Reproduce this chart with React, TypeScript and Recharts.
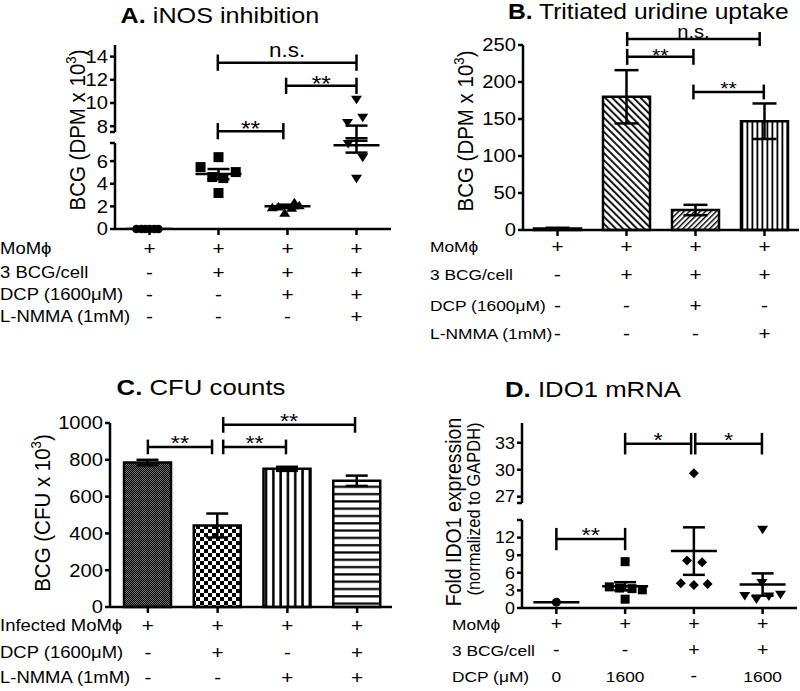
import React from "react";
import { ComposedChart, Bar, Scatter, XAxis, YAxis, ErrorBar, ReferenceLine, Cell } from "recharts";

const FONT = '"Liberation Sans", Arial, Helvetica, sans-serif';
const SX = 1.12;
const K = "#000";
const SW = 2.5;
const line = { stroke: K, strokeWidth: SW };

// ---------- A. iNOS inhibition ----------
const groupsX = [0, 1, 2, 3];
const aValues = [
  [0, 0, 0, 0, 0, 0],
  [6.35, 5.47, 5.03, 4.59, 4.5, 3.18],
  [2.0, 1.45, 2.38, 1.9, 2.12, 1.95],
  [10.26, 8.26, 8.7, 7.5, 6.27, 4.41],
];
const aSpread = [
  [-0.19, -0.12, -0.06, 0, 0.07, 0.13],
  [0, -0.26, 0.25, -0.09, 0.07, 0],
  [-0.13, -0.04, 0.1, 0.06, 0.17, -0.22],
  [0, -0.13, 0.09, -0.12, 0.09, 0],
];
const aMean = [0, 4.85, 2.0, 7.4];
const aSem = [0, 0.45, 0.15, 0.65];
const aLowTicks = [0, 2, 4, 6];
const aHighTicks = [8, 10, 12, 14];
const A_LOW = [0, 7.6];
const A_HIGH = [7.5, 15];
const aRowLabels = ["MoM\u03D5", "3 BCG/cell", "DCP (1600\u03BCM)", "L-NMMA (1mM)"];
const aFactors = [
  ["+", "+", "+", "+"],
  ["-", "+", "+", "+"],
  ["-", "-", "+", "+"],
  ["-", "-", "-", "+"],
];

// ---------- B. Tritiated uridine uptake ----------
const bCats = ["b1", "b2", "b3", "b4"];
const bValues = [2, 180, 27, 147];
const bErr = [1, 36, 7, 24];
const bTicks = [0, 50, 100, 150, 200, 250];
const bRowLabels = ["MoM\u03D5", "3 BCG/cell", "DCP (1600\u03BCM)", "L-NMMA (1mM)"];
const bFactors = [
  ["+", "+", "+", "+"],
  ["-", "+", "+", "+"],
  ["-", "-", "+", "-"],
  ["-", "-", "-", "+"],
];

// ---------- C. CFU counts ----------
const cCats = ["c1", "c2", "c3", "c4"];
const cValues = [785, 443, 751, 686];
const cErr = [15, 65, 11, 28];
const cTicks = [0, 200, 400, 600, 800, 1000];
const cRowLabels = ["Infected MoM\u03D5", "DCP (1600\u03BCM)", "L-NMMA (1mM)"];
const cFactors = [
  ["+", "+", "+", "+"],
  ["-", "+", "-", "+"],
  ["-", "-", "+", "+"],
];

// ---------- D. IDO1 mRNA ----------
const dValues = [
  [1.0],
  [7.9, 3.6, 3.4, 3.3, 3.1, 1.5],
  [29.6, 8.1, 7.8, 4.2, 3.9, 4.1],
  [13.3, 4.2, 2.0, 1.4, 1.9, 2.2],
];
const dSpread = [
  [0],
  [0, -0.23, -0.08, 0.1, 0.25, 0],
  [0, -0.1, 0.12, -0.19, 0, 0.2],
  [0, -0.01, -0.26, -0.09, 0.09, 0.26],
];
const dMean = [1.0, 3.7, 9.7, 4.0];
const dSem = [0, 0.7, 4.05, 1.9];
const dLowTicks = [0, 3, 6, 9, 12];
const dHighTicks = [27, 30, 33];
const D_LOW = [0, 15];
const D_HIGH = [26.3, 35.2];
const dRowLabels = ["MoM\u03D5", "3 BCG/cell", "DCP (\u03BCM)"];
const dFactors = [
  ["+", "+", "+", "+"],
  ["-", "-", "+", "+"],
  ["0", "1600", "-", "1600"],
];

const points = (vals: number[][], spread: number[][], g: number, keep: (v: number) => boolean) =>
  vals[g].map((v, i) => ({ x: groupsX[g] + spread[g][i], y: v })).filter((p) => keep(p.y));
const means = (m: number[], s: number[]) => groupsX.map((g, i) => ({ x: g, y: m[i], sem: s[i] }));

const mark = (kind: string, s: number) => (p: any) => {
  const { cx, cy } = p;
  if (cx == null || cy == null) return <g />;
  const h = s / 2;
  if (kind === "circle") return <circle cx={cx} cy={cy} r={h} fill={K} />;
  if (kind === "square") return <rect x={cx - h} y={cy - h} width={s} height={s} fill={K} />;
  if (kind === "diamond")
    return <path d={`M${cx},${cy - h}L${cx + h},${cy}L${cx},${cy + h}L${cx - h},${cy}Z`} fill={K} />;
  if (kind === "up")
    return <path d={`M${cx},${cy - h * 0.85}L${cx + h * 1.1},${cy + h * 0.85}L${cx - h * 1.1},${cy + h * 0.85}Z`} fill={K} />;
  return <path d={`M${cx},${cy + h * 0.85}L${cx + h * 1.1},${cy - h * 0.85}L${cx - h * 1.1},${cy - h * 0.85}Z`} fill={K} />;
};

const meanLine = (half: number) => (p: any) =>
  p.cx == null ? <g /> : <line x1={p.cx - half} x2={p.cx + half} y1={p.cy} y2={p.cy} stroke={K} strokeWidth={SW} />;

function YTick(props: any) {
  const { x, y, payload, labels, size } = props;
  if (!labels.includes(payload.value)) return <g />;
  return (
    <text transform={`translate(${x},${y}) scale(${SX},1)`} textAnchor="end" dy="0.36em" fontSize={size || 18} fontFamily={FONT} fill={K}>
      {payload.value}
    </text>
  );
}

function FactorTick(props: any) {
  const { x, y, payload, rows, offsets, size, cats } = props;
  const i = cats ? cats.indexOf(payload.value) : Math.round(payload.value);
  const axisY = y - 6;
  return (
    <g>
      {rows.map((r: string[], k: number) => {
        const sign = r[i] === "+" || r[i] === "-";
        return (
          <text key={k} transform={`translate(${x},${axisY + offsets[k]}) scale(${SX},1)`} textAnchor="middle" dy="0.36em" fontSize={sign ? size + 2 : size} fontFamily={FONT} fill={K}>
            {r[i]}
          </text>
        );
      })}
    </g>
  );
}

const bracketLabel = (text: string, size: number, dy: number) => (p: any) => {
  const vb = p.viewBox || { x: 0, y: 0, width: 0 };
  const cx = vb.x + vb.width / 2;
  return (
    <text transform={`translate(${cx},${vb.y + dy}) scale(${SX},1)`} textAnchor="middle" fontSize={size} fontFamily={FONT} fill={K}>
      {text}
    </text>
  );
};

function bracket(key: string, x1: number, x2: number, y: number, h: number, text: string, size: number, dy: number, xAxisId: any = 0) {
  const common = { stroke: K, strokeWidth: SW, ifOverflow: "visible" as const, xAxisId };
  return [
    <ReferenceLine key={key + "h"} {...common} segment={[{ x: x1, y }, { x: x2, y }]} label={bracketLabel(text, size, dy)} />,
    <ReferenceLine key={key + "l"} {...common} segment={[{ x: x1, y: y - h }, { x: x1, y: y + h }]} />,
    <ReferenceLine key={key + "r"} {...common} segment={[{ x: x2, y: y - h }, { x: x2, y: y + h }]} />,
  ];
}

const aShapes = ["circle", "square", "up", "down"];
const aSizes = [8.5, 10, 10, 10];
const dShapes = ["circle", "square", "diamond", "down"];
const dSizes = [9, 9, 10, 10];

function PanelA() {
  const low = (v: number) => v <= A_LOW[1];
  const high = (v: number) => v > A_LOW[1];
  return (
    <>
      <div style={{ position: "absolute", left: 0, top: 0 }}>
        <ComposedChart width={400} height={145} margin={{ top: 45, right: 9, bottom: 13, left: 0 }}>
          <XAxis type="number" dataKey="x" domain={[-0.5, 3.5]} hide height={0} />
          <YAxis type="number" dataKey="y" domain={A_HIGH} ticks={[A_HIGH[0], ...aHighTicks]} allowDataOverflow interval={0} width={115}
            axisLine={line} tickLine={line} tickSize={5} tickMargin={2} tick={<YTick labels={aHighTicks} />} />
          {groupsX.map((g) => (
            <Scatter key={g} data={points(aValues, aSpread, g, high)} shape={mark(aShapes[g], aSizes[g])} isAnimationActive={false} />
          ))}
          <Scatter data={means(aMean, aSem)} shape={meanLine(23)} isAnimationActive={false}>
            <ErrorBar dataKey="sem" direction="y" width={11} stroke={K} strokeWidth={SW} />
          </Scatter>
          {bracket("a1", 0.99, 3.0, 13.48, 0.7, "n.s.", 20, -6)}
          {bracket("a2", 1.98, 3.0, 11.48, 0.7, "**", 22, 5)}
          {bracket("a3", 0.99, 1.94, 7.57, 0.7, "**", 22, 5)}
        </ComposedChart>
      </div>
      <div style={{ position: "absolute", left: 0, top: 137 }}>
        <ComposedChart width={400} height={200} margin={{ top: 6, right: 9, bottom: 0, left: 0 }}>
          <XAxis type="number" dataKey="x" domain={[-0.5, 3.5]} ticks={groupsX} interval={0} height={108}
            axisLine={line} tickLine={line} tickSize={6} tickMargin={0}
            tick={<FactorTick rows={aFactors} offsets={[19, 43, 65, 87]} size={16.5} />} />
          <YAxis yAxisId="v" type="number" dataKey="y" domain={A_LOW} ticks={[...aLowTicks, A_LOW[1]]} interval={0} width={115}
            axisLine={line} tickLine={line} tickSize={5} tickMargin={2} tick={<YTick labels={aLowTicks} />} />
          <YAxis yAxisId="c" type="number" dataKey="y" domain={A_LOW} hide allowDataOverflow width={0} />
          {groupsX.map((g) => (
            <Scatter key={g} yAxisId="v" data={points(aValues, aSpread, g, low)} shape={mark(aShapes[g], aSizes[g])} isAnimationActive={false} />
          ))}
          <Scatter yAxisId="c" data={means(aMean, aSem)} shape={meanLine(23)} isAnimationActive={false}>
            <ErrorBar dataKey="sem" direction="y" width={11} stroke={K} strokeWidth={SW} />
          </Scatter>
        </ComposedChart>
      </div>
    </>
  );
}

function PanelB() {
  const data = bCats.map((c, i) => ({ name: c, ix: groupsX[i], v: bValues[i], e: bErr[i] }));
  const fills = ["#fff", "url(#pB2)", "url(#pB3)", "url(#pB4)"];
  return (
    <div style={{ position: "absolute", left: 400, top: 0 }}>
      <ComposedChart width={400} height={345} data={data} margin={{ top: 45, right: 1, bottom: 0, left: 0 }}>
        <defs>
          <pattern id="pB2" width="5" height="5" patternUnits="userSpaceOnUse" patternTransform="rotate(-45)">
            <rect width="5" height="5" fill="#fff" />
            <rect width="1.8" height="5" fill="#000" />
          </pattern>
          <pattern id="pB3" width="3.8" height="3.8" patternUnits="userSpaceOnUse" patternTransform="rotate(45)">
            <rect width="3.8" height="3.8" fill="#fff" />
            <rect width="1.4" height="3.8" fill="#000" />
          </pattern>
          <pattern id="pB4" width="5" height="5" patternUnits="userSpaceOnUse">
            <rect width="5" height="5" fill="#fff" />
            <rect x="1.5" width="1.8" height="5" fill="#000" />
          </pattern>
        </defs>
        <XAxis dataKey="name" type="category" interval={0} height={115} axisLine={line} tickLine={line} tickSize={6} tickMargin={0}
          tick={<FactorTick rows={bFactors} cats={bCats} offsets={[16, 44, 75, 103]} size={16.5} />} />
        <XAxis xAxisId="n" dataKey="ix" type="number" domain={[-0.5, 3.5]} allowDataOverflow hide height={0} />
        <YAxis type="number" domain={[0, 250]} ticks={bTicks} interval={0} width={123} axisLine={line} tickLine={line} tickSize={5} tickMargin={2}
          tick={<YTick labels={bTicks} />} />
        <Bar dataKey="v" barSize={47} stroke={K} strokeWidth={SW} isAnimationActive={false}>
          {fills.map((f, i) => (
            <Cell key={i} fill={f} />
          ))}
          <ErrorBar dataKey="e" direction="y" width={12} stroke={K} strokeWidth={SW} />
        </Bar>
        {bracket("b1", 1.01, 2.93, 258, 9.5, "n.s.", 18, -1, "n")}
        {bracket("b2", 1.01, 1.97, 234, 10.8, "**", 19, 5, "n")}
        {bracket("b3", 1.97, 2.99, 186.5, 10, "**", 19, 3, "n")}
      </ComposedChart>
    </div>
  );
}

function PanelC() {
  const data = cCats.map((c, i) => ({ name: c, ix: groupsX[i], v: cValues[i], e: cErr[i] }));
  const fills = ["url(#pC1)", "url(#pC2)", "url(#pC3)", "url(#pC4)"];
  return (
    <div style={{ position: "absolute", left: 0, top: 345 }}>
      <ComposedChart width={400} height={346} data={data} margin={{ top: 78, right: 8, bottom: 0, left: 0 }}>
        <defs>
          <pattern id="pC1" width="2" height="2" patternUnits="userSpaceOnUse">
            <rect width="2" height="2" fill="#6e6e6e" />
            <rect width="1" height="1" fill="#000" />
            <rect x="1" y="1" width="1" height="1" fill="#000" />
          </pattern>
          <pattern id="pC2" width="8" height="8" patternUnits="userSpaceOnUse">
            <rect width="8" height="8" fill="#fff" />
            <rect width="4" height="4" fill="#000" />
            <rect x="4" y="4" width="4" height="4" fill="#000" />
          </pattern>
          <pattern id="pC3" width="7.3" height="7.3" patternUnits="userSpaceOnUse">
            <rect width="7.3" height="7.3" fill="#fff" />
            <rect x="2" width="2.5" height="7.3" fill="#000" />
          </pattern>
          <pattern id="pC4" width="7.3" height="7.3" patternUnits="userSpaceOnUse">
            <rect width="7.3" height="7.3" fill="#fff" />
            <rect y="2" width="7.3" height="2.2" fill="#000" />
          </pattern>
        </defs>
        <XAxis dataKey="name" type="category" interval={0} height={84} padding={{ left: 3, right: 0 }} axisLine={line} tickLine={line} tickSize={6} tickMargin={0}
          tick={<FactorTick rows={cFactors} cats={cCats} offsets={[18, 45, 70]} size={16.5} />} />
        <XAxis xAxisId="n" dataKey="ix" type="number" domain={[-0.5, 3.5]} padding={{ left: 3, right: 0 }} allowDataOverflow hide height={0} />
        <YAxis type="number" domain={[0, 1000]} ticks={cTicks} interval={0} width={110} axisLine={line} tickLine={line} tickSize={5} tickMargin={2}
          tick={<YTick labels={cTicks} />} />
        <Bar dataKey="v" barSize={47} stroke={K} strokeWidth={SW} isAnimationActive={false}>
          {fills.map((f, i) => (
            <Cell key={i} fill={f} />
          ))}
          <ErrorBar dataKey="e" direction="y" width={11} stroke={K} strokeWidth={SW} />
        </Bar>
        {bracket("c1", 0.0, 0.92, 870, 40, "**", 21, 3, "n")}
        {bracket("c2", 1.08, 1.98, 870, 40, "**", 21, 3, "n")}
        {bracket("c3", 1.08, 2.97, 990, 43, "**", 21, 3, "n")}
      </ComposedChart>
    </div>
  );
}

function PanelD() {
  const low = (v: number) => v <= D_LOW[1];
  const high = (v: number) => v > D_LOW[1];
  return (
    <>
      <div style={{ position: "absolute", left: 400, top: 345 }}>
        <ComposedChart width={400} height={168} margin={{ top: 78, right: 3, bottom: 10, left: 0 }}>
          <XAxis type="number" dataKey="x" domain={[-0.5, 3.5]} hide height={0} />
          <YAxis type="number" dataKey="y" domain={D_HIGH} ticks={[D_HIGH[0], ...dHighTicks]} allowDataOverflow interval={0} width={122}
            axisLine={line} tickLine={line} tickSize={5} tickMargin={2} tick={<YTick labels={dHighTicks} size={16} />} />
          {groupsX.map((g) => (
            <Scatter key={g} data={points(dValues, dSpread, g, high)} shape={mark(dShapes[g], dSizes[g])} isAnimationActive={false} />
          ))}
          {bracket("d2", 1.0, 1.96, 32.9, 1.2, "*", 21, 3)}
          {bracket("d3", 2.02, 2.99, 32.9, 1.2, "*", 21, 3)}
        </ComposedChart>
      </div>
      <div style={{ position: "absolute", left: 400, top: 514 }}>
        <ComposedChart width={400} height={177} margin={{ top: 6, right: 3, bottom: 0, left: 0 }}>
          <XAxis type="number" dataKey="x" domain={[-0.5, 3.5]} ticks={groupsX} interval={0} height={83}
            axisLine={line} tickLine={line} tickSize={6} tickMargin={0}
            tick={<FactorTick rows={dFactors} offsets={[16, 42, 68]} size={15.5} />} />
          <YAxis type="number" dataKey="y" domain={D_LOW} ticks={[...dLowTicks, D_LOW[1]]} interval={0} width={122}
            axisLine={line} tickLine={line} tickSize={5} tickMargin={2} tick={<YTick labels={dLowTicks} size={16} />} />
          {groupsX.map((g) => (
            <Scatter key={g} data={points(dValues, dSpread, g, low)} shape={mark(dShapes[g], dSizes[g])} isAnimationActive={false} />
          ))}
          <Scatter data={means(dMean, dSem)} shape={meanLine(23)} isAnimationActive={false}>
            <ErrorBar dataKey="sem" direction="y" width={11} stroke={K} strokeWidth={SW} />
          </Scatter>
          {bracket("d1", 0.0, 1.0, 11.75, 1.9, "**", 21, 3)}
        </ComposedChart>
      </div>
    </>
  );
}

const T = (x: number, y: number, size: number, content: React.ReactNode, anchor: string = "start", extra = "") => (
  <text transform={`translate(${x},${y}) ${extra || `scale(${SX},1)`}`} textAnchor={anchor as any} fontSize={size} fontFamily={FONT} fill={K}>
    {content}
  </text>
);

function Overlay() {
  const rot = `rotate(-90) scale(1,${SX})`;
  const rowText = (labels: string[], x: number, ys: number[], size: number) =>
    labels.map((l, i) => (
      <text key={l + i} transform={`translate(${x},${ys[i]}) scale(${SX},1)`} dy="0.36em" fontSize={size} fontFamily={FONT} fill={K}>
        {l}
      </text>
    ));
  const ylab = (x: number, y: number, main: string, size: number) =>
    T(x, y, size, (
      <>
        {main}
        <tspan dy={-8} fontSize={size * 0.65}>3</tspan>
        <tspan dy={8}>)</tspan>
      </>
    ), "middle", rot);
  return (
    <svg width={800} height={691} style={{ position: "absolute", left: 0, top: 0, pointerEvents: "none" }}>
      {T(220, 23, 22.5, <><tspan fontWeight="bold">A.</tspan> iNOS inhibition</>, "middle")}
      {T(508, 19, 22, <><tspan fontWeight="bold">B.</tspan> Tritiated uridine uptake</>, "start")}
      {T(201, 395, 23, <><tspan fontWeight="bold">C.</tspan> CFU counts</>, "middle")}
      {T(593, 397, 23, <><tspan fontWeight="bold">D.</tspan> IDO1 mRNA</>, "middle")}
      {ylab(85, 130, "BCG (DPM x 10", 20.5)}
      {ylab(473, 131, "BCG (DPM x 10", 20.5)}
      {ylab(50, 513, "BCG (CFU x 10", 20.5)}
      {T(461, 512, 19.5, "Fold IDO1 expression", "middle", rot)}
      {T(480, 509, 16.5, "(normalized to GAPDH)", "middle", rot)}
      {rowText(aRowLabels, 0, [248, 272, 294, 316], 16.5)}
      {rowText(bRowLabels, 430, [246, 274, 305, 333], 15.5)}
      {rowText(cRowLabels, 0, [625, 652, 677], 16.5)}
      {rowText(dRowLabels, 452, [624, 650, 676], 15.5)}
    </svg>
  );
}

export default function App() {
  return (
    <div style={{ position: "absolute", left: 0, top: 0, width: 800, height: 691, overflow: "hidden", background: "#fff" }}>
      <PanelA />
      <PanelB />
      <PanelC />
      <PanelD />
      <Overlay />
    </div>
  );
}
